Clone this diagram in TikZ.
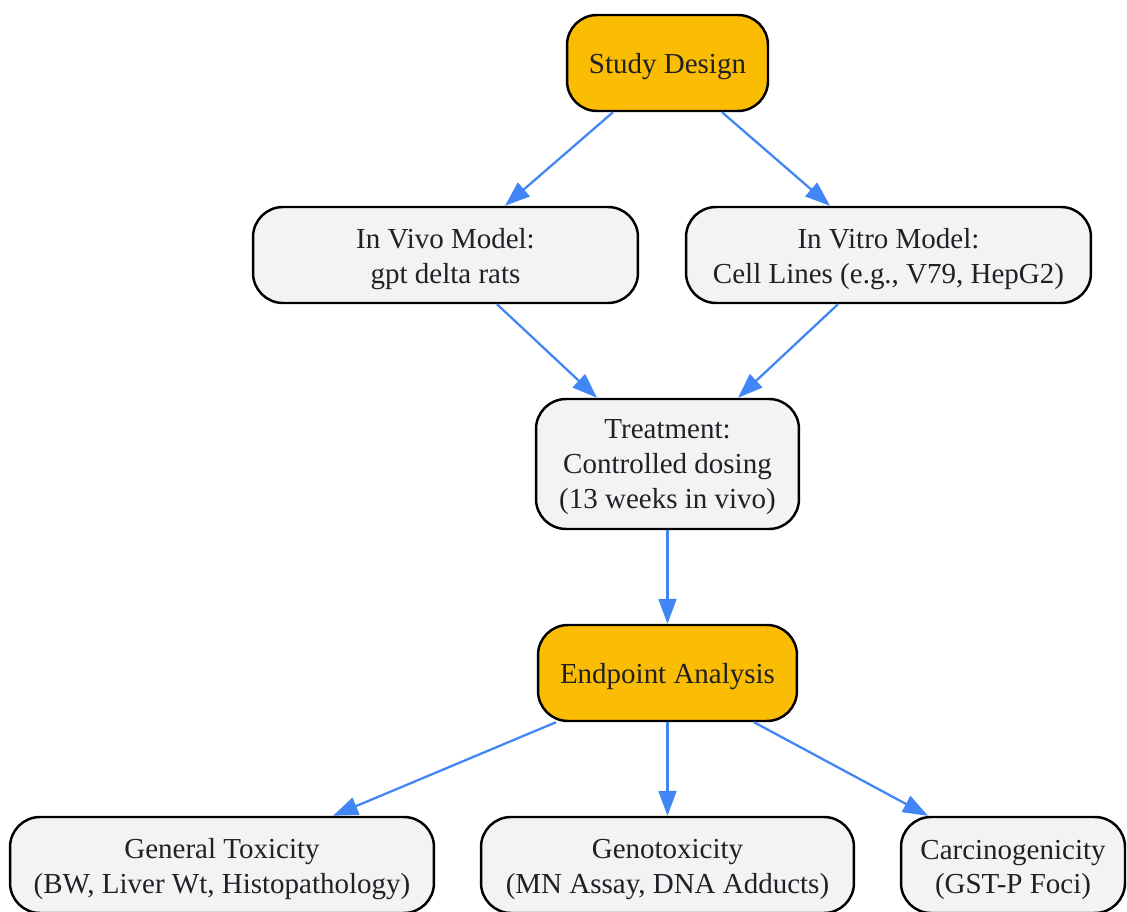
\documentclass[tikz,border=0pt]{standalone}
\usepackage{fontspec}
\setmainfont{Liberation Serif}
\usetikzlibrary{arrows.meta}

\definecolor{keyfill}{HTML}{FBBC04}
\definecolor{boxfill}{HTML}{F1F3F4}
\definecolor{flowblue}{HTML}{4285F4}
\definecolor{inkgray}{HTML}{202124}

\tikzset{
  box/.style={draw=black,line width=1.4pt,rounded corners=0.6cm,fill=boxfill,
    align=center,inner sep=0pt,text=inkgray,
    font=\fontsize{16.5}{19.9}\selectfont,
    execute at begin node={\rule{0pt}{16pt}}},
  keybox/.style={box,fill=keyfill},
  twobox/.style={box,execute at begin node={\rule{0pt}{36.5pt}}},
  threebox/.style={box,execute at begin node={\rule{0pt}{54.2pt}}},
  flow/.style={draw=flowblue,line width=1.3pt,-{Triangle[length=0.5cm,width=0.36cm]}}
}

\begin{document}
\begin{tikzpicture}[x=0.02cm,y=-0.02cm]
  \useasboundingbox (0,0) rectangle (1127,912);
  % stages
  \node[keybox,minimum width=4.02cm,minimum height=1.92cm] (design) at (667.5,63) {Study Design};
  \node[twobox,minimum width=7.7cm,minimum height=1.92cm] (vivo) at (445.5,255) {In Vivo Model:\\gpt delta rats};
  \node[twobox,minimum width=8.1cm,minimum height=1.92cm] (vitro) at (888.5,255) {In Vitro Model:\\Cell Lines (e.g., V79, HepG2)};
  \node[threebox,minimum width=5.26cm,minimum height=2.6cm] (treat) at (667.5,464) {Treatment:\\Controlled dosing\\(13 weeks in vivo)};
  \node[keybox,minimum width=5.18cm,minimum height=1.92cm] (endpoint) at (667.5,673) {Endpoint Analysis};
  % endpoints
  \node[twobox,minimum width=8.48cm,minimum height=1.92cm] (gentox) at (222,865) {General Toxicity\\(BW, Liver Wt, Histopathology)};
  \node[twobox,minimum width=7.46cm,minimum height=1.92cm] (genotox) at (667.5,865) {Genotoxicity\\(MN Assay, DNA Adducts)};
  \node[twobox,minimum width=4.48cm,minimum height=1.92cm] (carc) at (1013,865) {Carcinogenicity\\(GST-P Foci)};
  % arrows
  \draw[flow] ([xshift=-54.5*0.02cm]design.south) -- ([xshift=59.5*0.02cm]vivo.north);
  \draw[flow] ([xshift=54.5*0.02cm]design.south) -- ([xshift=-58.5*0.02cm]vitro.north);
  \draw[flow] ([xshift=51.5*0.02cm]vivo.south) -- ([xshift=-70.5*0.02cm]treat.north);
  \draw[flow] ([xshift=-50.5*0.02cm]vitro.south) -- ([xshift=70.5*0.02cm]treat.north);
  \draw[flow] (treat.south) -- (endpoint.north);
  \draw[flow] ([xshift=-111.5*0.02cm]endpoint.south) -- ([xshift=111*0.02cm]gentox.north);
  \draw[flow] (endpoint.south) -- (genotox.north);
  \draw[flow] ([xshift=86.5*0.02cm]endpoint.south) -- ([xshift=-85*0.02cm]carc.north);
\end{tikzpicture}
\end{document}
